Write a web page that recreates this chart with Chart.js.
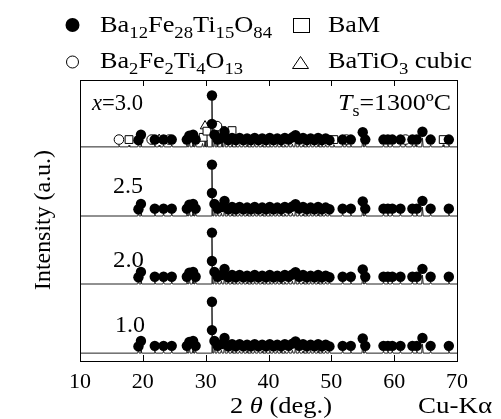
<!DOCTYPE html>
<html>
<head>
<meta charset="utf-8">
<script src="https://cdn.jsdelivr.net/npm/chart.js@4/dist/chart.umd.min.js"></script>
<style>
  html, body { margin: 0; padding: 0; background: #fff; }
  #wrap { width: 501px; height: 419px; }
</style>
</head>
<body>
<div id="wrap"><canvas id="xrd"></canvas></div>
<script>
// sample labels (x) and the vertical offset of each pattern (0-100 scale)
var samples = ['1.0', '2.0', '2.5', '3.0'];
var offsets = [2.8, 27.4, 51.6, 76.2];

// diffraction peaks shared by all patterns (2theta, height)
var peakPos = [19.3, 19.7, 21.9, 23.3, 24.6, 27.0, 27.4, 28.0, 28.4, 31.0, 31.4, 31.9, 32.5, 33.0, 33.6,
    34.2, 34.8, 35.4, 36.0, 36.6, 37.2, 37.8, 38.4, 39.0, 39.6, 40.2, 40.8, 41.4, 42.0, 42.6, 43.2, 43.8,
    44.3, 44.9, 45.5, 46.1, 46.7, 47.3, 47.9, 48.5, 49.1, 49.7, 51.8, 53.1, 55.0, 55.4, 58.3, 59.0, 59.7,
    61.0, 62.9, 63.6, 64.5, 65.8, 68.7];
var peakInt = [1.2, 2.4, 1.0, 0.8, 0.8, 1.0, 2.0, 2.2, 1.0, 18.0, 2.8, 1.2, 1.0, 3.2, 1.0,
    1.0, 1.2, 0.8, 1.0, 1.0, 0.8, 1.0, 1.0, 0.8, 1.0, 1.0, 0.8, 1.0, 1.0, 0.8, 1.0, 1.0,
    2.4, 1.0, 0.8, 1.0, 1.0, 0.8, 1.0, 1.0, 0.8, 1.0, 1.0, 0.8, 3.0, 1.0, 0.8, 0.8, 0.8,
    0.8, 0.8, 0.8, 3.2, 0.8, 0.8];

// extra peaks that only show in x=3.0
var extraPos3 = [16.2, 17.8, 22.6, 29.5, 29.9, 30.2, 31.8, 32.6, 34.2, 50.4, 52.4, 61.8, 63.4, 67.8];
var extraInt3 = [0.6, 0.6, 0.6, 1.2, 2.0, 2.4, 3.0, 2.0, 1.6, 0.8, 0.8, 0.8, 0.8, 0.8];

// Ba12Fe28Ti15O84 markers (filled circles): 2theta and lift above the pattern
var b12Pos = [19.3, 19.7, 21.9, 23.3, 24.6, 27.0, 27.4, 28.0, 28.4, 31.0, 31.0, 31.4, 31.9, 32.5, 33.0, 33.6,
    34.2, 34.8, 35.4, 36.0, 36.6, 37.2, 37.8, 38.4, 39.0, 39.6, 40.2, 40.8, 41.4, 42.0, 42.6, 43.2, 43.8,
    44.3, 44.9, 45.5, 46.1, 46.7, 47.3, 47.9, 48.5, 49.1, 49.7, 51.8, 53.1, 55.0, 55.4, 58.3, 59.0, 59.7,
    61.0, 62.9, 63.6, 64.5, 65.8, 68.7];
var b12Lift = [2.4, 4.3, 2.6, 2.6, 2.6, 2.6, 4.0, 4.3, 2.6, 18.3, 8.2, 4.3, 2.6, 3.2, 5.4, 2.4,
    3.2, 2.4, 3.2, 2.4, 3.0, 2.4, 3.2, 2.4, 3.0, 2.4, 3.2, 2.4, 3.0, 2.4, 3.2, 2.6, 3.4,
    4.2, 2.6, 3.2, 2.4, 3.0, 2.4, 3.2, 2.4, 3.0, 2.4, 2.6, 2.6, 5.2, 2.6, 2.6, 2.6, 2.6,
    2.6, 2.6, 2.6, 5.4, 2.6, 2.6];

// other phases, x=3.0 only
var b2Pos = [16.2, 21.4, 24.2, 31.8, 52.4, 61.8];          // Ba2Fe2Ti4O13
var b2Lift = [2.6, 2.6, 2.6, 7.4, 2.6, 2.6];
var bamPos = [17.8, 29.6, 30.2, 32.6, 34.2, 50.4, 63.4, 67.8]; // BaM
var bamLift = [2.6, 3.4, 5.6, 5.8, 5.8, 2.6, 2.6, 2.6];
var btoPos = [22.6, 29.9];                                   // BaTiO3 cubic
var btoLift = [2.6, 7.4];

var serif = "'Liberation Serif', 'Times New Roman', serif";

function pattern(base, pos, hts) {
    var pts = [{x: 10, y: base}, {x: 70, y: base}];
    for (var i = 0; i < pos.length; i++) {
        pts.push({x: pos[i] - 0.12, y: base});
        pts.push({x: pos[i], y: base + hts[i]});
        pts.push({x: pos[i] + 0.12, y: base});
    }
    pts.sort(function(a, b) { return a.x - b.x; });
    return pts;
}

function marks(base, pos, lift) {
    return pos.map(function(p, i) { return {x: p, y: base + lift[i]}; });
}

var datasets = [];
// markers first so they are drawn on top
for (var s = 0; s < samples.length; s++) {
    datasets.push({
        data: marks(offsets[s], b12Pos, b12Lift),
        pointStyle: 'circle', pointRadius: 5.2,
        backgroundColor: '#000', borderColor: '#000', borderWidth: 0, showLine: false
    });
}
datasets.push({
    data: marks(offsets[3], b2Pos, b2Lift),
    pointStyle: 'circle', pointRadius: 4.8,
    backgroundColor: '#fff', borderColor: '#000', borderWidth: 1, showLine: false
});
datasets.push({
    data: marks(offsets[3], bamPos, bamLift),
    pointStyle: 'rect', pointRadius: 5.5,
    backgroundColor: '#fff', borderColor: '#000', borderWidth: 1, showLine: false
});
datasets.push({
    data: marks(offsets[3], btoPos, btoLift),
    pointStyle: 'triangle', pointRadius: 5.5,
    backgroundColor: '#fff', borderColor: '#000', borderWidth: 1, showLine: false
});
for (var s = 0; s < samples.length; s++) {
    var pos = peakPos, hts = peakInt;
    if (s == 3) {
        pos = peakPos.concat(extraPos3);
        hts = peakInt.concat(extraInt3);
    }
    datasets.push({
        data: pattern(offsets[s], pos, hts),
        showLine: true, pointRadius: 0, borderColor: '#222', borderWidth: 1, tension: 0
    });
}

// draw runs of text: [text, kind] with kind '' normal, 'i' italic, 's' subscript
function runs(ctx, x, y, parts, size) {
    var sub = Math.round(size * 0.7);
    parts.forEach(function(p) {
        if (p[1] == 's') {
            ctx.font = sub + 'px ' + serif;
            ctx.fillText(p[0], x, y + size * 0.25);
        } else {
            ctx.font = (p[1] == 'i' ? 'italic ' : '') + size + 'px ' + serif;
            ctx.fillText(p[0], x, y);
        }
        x += ctx.measureText(p[0]).width;
    });
    return x;
}

// same, squeezed or stretched a little to fill the width seen in the original
function runsFit(ctx, x, y, parts, size, width) {
    ctx.save();
    var nat = runs(ctx, -10000, -10000, parts, size) + 10000;
    ctx.translate(x, y);
    ctx.scale(width / nat, 1);
    runs(ctx, 0, 0, parts, size);
    ctx.restore();
}

var decor = {
    id: 'decor',
    afterDraw: function(chart) {
        var ctx = chart.ctx, a = chart.chartArea, xs = chart.scales.x;
        ctx.save();
        ctx.strokeStyle = '#000';
        ctx.lineWidth = 1;
        ctx.strokeRect(a.left + 0.5, a.top + 0.5, a.right - a.left, a.bottom - a.top);
        for (var v = 20; v < 70; v += 10) {
            var px = Math.round(xs.getPixelForValue(v)) + 0.5;
            ctx.beginPath();
            ctx.moveTo(px, a.top); ctx.lineTo(px, a.top + 6);
            ctx.moveTo(px, a.bottom); ctx.lineTo(px, a.bottom - 6);
            ctx.stroke();
        }

        ctx.fillStyle = '#000';
        ctx.textBaseline = 'alphabetic';
        // legend
        ctx.beginPath(); ctx.arc(72.5, 25, 7, 0, Math.PI * 2); ctx.fill();
        runsFit(ctx, 100, 32, [['Ba', ''], ['12', 's'], ['Fe', ''], ['28', 's'], ['Ti', ''], ['15', 's'], ['O', ''], ['84', 's']], 24, 172);
        ctx.strokeRect(293.5, 18.5, 16, 14);
        runsFit(ctx, 328, 32, [['BaM', '']], 24, 52);
        ctx.beginPath(); ctx.arc(72.5, 62, 6, 0, Math.PI * 2); ctx.stroke();
        runsFit(ctx, 100, 68, [['Ba', ''], ['2', 's'], ['Fe', ''], ['2', 's'], ['Ti', ''], ['4', 's'], ['O', ''], ['13', 's']], 24, 143);
        ctx.beginPath();
        ctx.moveTo(300.5, 56.5); ctx.lineTo(308.5, 68.5); ctx.lineTo(292.5, 68.5); ctx.closePath(); ctx.stroke();
        runsFit(ctx, 328, 68, [['BaTiO', ''], ['3', 's'], [' cubic', '']], 24, 144);

        // sample labels
        runsFit(ctx, 92, 110, [['x', 'i'], ['=3.0', '']], 23, 51);
        runsFit(ctx, 338, 110, [['T', 'i'], ['s', 's'], ['=1300ºC', '']], 23, 113);
        runsFit(ctx, 113, 193, [['2.5', '']], 23, 30);
        runsFit(ctx, 113, 267, [['2.0', '']], 23, 31);
        runsFit(ctx, 115, 332, [['1.0', '']], 23, 30);

        // axis titles
        runsFit(ctx, 230, 413, [['2', ''], [' ', ''], ['θ', 'i'], [' (deg.)', '']], 23, 102);
        runsFit(ctx, 418, 413, [['Cu-Kα', '']], 23, 74);
        ctx.translate(50, 220);
        ctx.rotate(-Math.PI / 2);
        ctx.font = '23px ' + serif;
        var wy = ctx.measureText('Intensity (a.u.)').width;
        ctx.scale(140 / wy, 1);
        ctx.textAlign = 'center';
        ctx.fillText('Intensity (a.u.)', 0, 0);
        ctx.restore();
    }
};

new Chart(document.getElementById('xrd'), {
    type: 'scatter',
    data: { datasets: datasets },
    options: {
        responsive: true,
        maintainAspectRatio: false,
        animation: false,
        events: [],
        layout: { padding: { left: 80, right: 44, top: 80, bottom: 0 } },
        plugins: { legend: { display: false }, tooltip: { enabled: false } },
        scales: {
            x: {
                type: 'linear', min: 10, max: 70,
                grid: { display: false, drawTicks: false },
                border: { display: false },
                ticks: { stepSize: 10, color: '#000', padding: 8, font: { family: serif, size: 22 } },
                afterFit: function(sc) { sc.height = 58; }
            },
            y: { min: 0, max: 100, display: false }
        }
    },
    plugins: [decor]
});
</script>
</body>
</html>
